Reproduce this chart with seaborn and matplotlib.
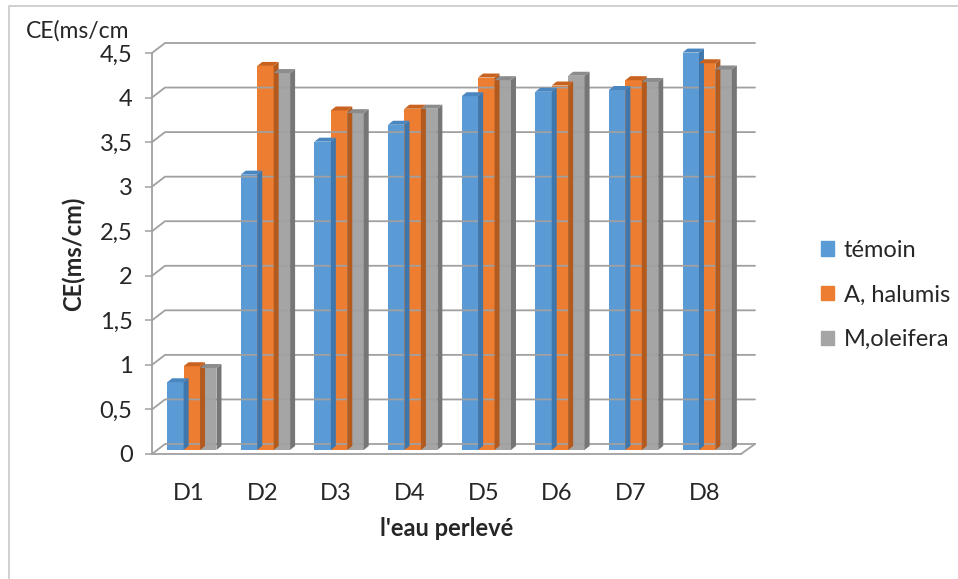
import numpy as np
import pandas as pd
import matplotlib
matplotlib.use("Agg")
import matplotlib.pyplot as plt
import seaborn as sns
from matplotlib.patches import Polygon
from matplotlib.lines import Line2D
from matplotlib.transforms import Affine2D, IdentityTransform

# ─── Data ─────────────────────────────────────────────────────────────────────
categories = ["D1", "D2", "D3", "D4", "D5", "D6", "D7", "D8"]
series     = ["témoin", "A, halumis", "M,oleifera"]
temoin     = [0.76, 3.09, 3.46, 3.65, 3.97, 4.02, 4.04, 4.46]
halumis    = [0.94, 4.31, 3.81, 3.83, 4.18, 4.09, 4.15, 4.34]
oleifera   = [0.92, 4.23, 3.78, 3.83, 4.15, 4.20, 4.13, 4.27]
yticks      = [0, 0.5, 1, 1.5, 2, 2.5, 3, 3.5, 4, 4.5]
ytick_lbls  = ["0", "0,5", "1", "1,5", "2", "2,5", "3", "3,5", "4", "4,5"]

colors = ["#5B9BD5", "#ED7D31", "#A5A5A5"]
sides  = ["#3F77AD", "#B35A1F", "#767676"]
tops   = ["#4A86C0", "#C9621E", "#8C8C8C"]
GRID   = "#A0A0A0"
FS     = 17

df = pd.DataFrame({
    "cat": np.repeat(categories, 3),
    "serie": series * len(categories),
    "val": np.ravel(np.column_stack([temoin, halumis, oleifera])),
})

sns.set_style("white")
plt.rcParams["font.family"] = ["Lato", "DejaVu Sans"]

fig = plt.figure(figsize=(9.58, 5.79), dpi=100)
ax = fig.add_axes([152 / 958, 1 - 454 / 579, (741 - 152) / 958, (454 - 53) / 579])

sns.barplot(data=df, x="cat", y="val", hue="serie", palette=colors,
            width=0.67, saturation=1, ax=ax, legend=False, zorder=3,
            linewidth=0, edgecolor="none")

ax.set_xlim(-0.5, len(categories) - 0.5)
ax.set_ylim(0, 4.5)
ax.set_yticks(yticks)
ax.set_yticklabels(ytick_lbls, fontsize=FS)
ax.set_xticks(range(len(categories)))
ax.set_xticklabels(categories, fontsize=FS)
ax.set_xticks(np.arange(-0.5, len(categories)), minor=True)
ax.tick_params(axis="x", which="major", length=0, pad=21)
ax.tick_params(axis="x", which="minor", length=7, width=1.1, color=GRID)
ax.tick_params(axis="y", length=5, width=1.1, color=GRID, pad=9, left=True)
for s in ["top", "right"]:
    ax.spines[s].set_visible(False)
for s in ["left", "bottom"]:
    ax.spines[s].set_color(GRID)
    ax.spines[s].set_linewidth(1.3)

ax.set_xlabel("l'eau perlevé", fontsize=FS, fontweight="bold", labelpad=9)
ax.set_ylabel("CE(ms/cm)", fontsize=FS, fontweight="bold", labelpad=10)

fig.canvas.draw()

# ─── fake 3D: walls, gridlines, floor ─────────────────────────────────────────
DX, DY = 13, 10
x_left = ax.transData.transform((-0.5, 0))[0]
x_right = ax.transData.transform((len(categories) - 0.5, 0))[0]
for v in yticks:
    yv = ax.transData.transform((0, v))[1]
    fig.add_artist(Line2D([x_left, x_left + DX, x_right + DX + 1],
                          [yv, yv + DY, yv + DY], transform=IdentityTransform(),
                          color=GRID, lw=1.3, zorder=1))
y0 = ax.transData.transform((0, 0))[1]
fig.add_artist(Line2D([x_right, x_right + DX + 1], [y0, y0 + DY],
                      transform=IdentityTransform(), color=GRID, lw=1.3, zorder=1))

# bars: shift front face into the middle of the depth, add side and top faces
shift = Affine2D().translate(3, 4)
bd, hd = 5, 4
for i, p in enumerate(ax.patches):
    k = i // len(categories)
    p.set_transform(ax.transData + shift)
    x0, x1 = p.get_x(), p.get_x() + p.get_width()
    h = p.get_height()
    (ax0, ay0), (ax1, ay1) = (ax.transData + shift).transform([(x0, 0), (x1, h)])
    side = Polygon([(ax1, ay0), (ax1 + bd, ay0 + hd), (ax1 + bd, ay1 + hd), (ax1, ay1)],
                   closed=True, transform=IdentityTransform(), facecolor=sides[k],
                   edgecolor="none", zorder=4)
    top = Polygon([(ax0, ay1), (ax1, ay1), (ax1 + bd, ay1 + hd), (ax0 + bd, ay1 + hd)],
                  closed=True, transform=IdentityTransform(), facecolor=tops[k],
                  edgecolor="none", zorder=4)
    fig.add_artist(side)
    fig.add_artist(top)

# ─── legend ───────────────────────────────────────────────────────────────────
handles = [plt.Rectangle((0, 0), 1, 1, color=c) for c in colors]
fig.legend(handles, series, loc="center left", bbox_to_anchor=(800 / 958, 1 - 295 / 579),
           frameon=False, fontsize=FS, handlelength=0.55, handleheight=0.55,
           handletextpad=0.4, labelspacing=1.0)

fig.text(26 / 958, 1 - 31 / 579, "CE(ms/cm", fontsize=16.5, va="center", ha="left")

# chart border (top and left only visible)
fig.add_artist(Line2D([9, 9, 958], [0, 579 - 6, 579 - 6], transform=IdentityTransform(),
                      color="#C8C8C8", lw=1.2))

fig.savefig("out.png", dpi=100)
